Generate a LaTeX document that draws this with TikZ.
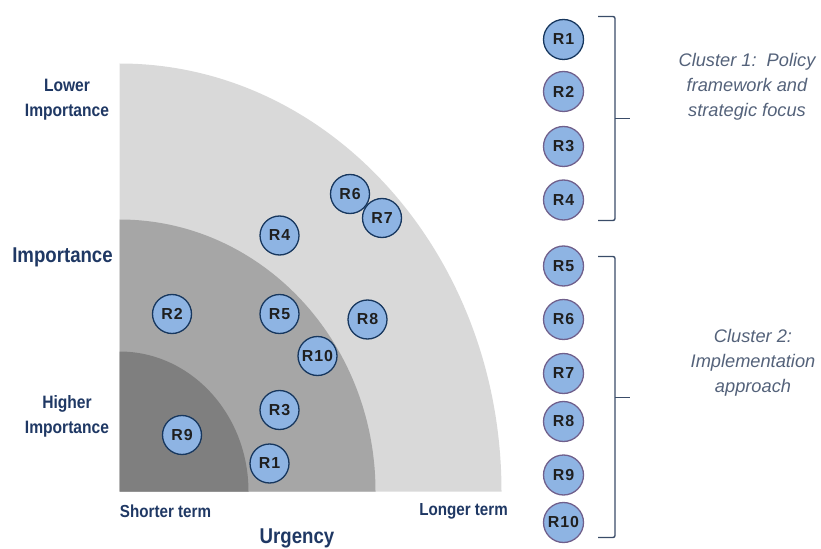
\documentclass[tikz,border=0pt]{standalone}
\usepackage{fontspec}
\setmainfont{Liberation Sans}
\newfontfamily\narrowfont[FakeStretch=0.87]{Liberation Sans}
\newfontfamily\rlabelfont[LetterSpace=6]{Liberation Sans}
\definecolor{navy}{RGB}{31,56,100}
\definecolor{clustertxt}{RGB}{84,98,122}
\definecolor{ringA}{RGB}{217,217,217}
\definecolor{ringB}{RGB}{166,166,166}
\definecolor{ringC}{RGB}{127,127,127}
\definecolor{rfill}{RGB}{142,180,227}
\definecolor{rborder}{RGB}{23,55,94}
\definecolor{rborderB}{RGB}{112,96,140}
\definecolor{brk}{RGB}{58,76,104}
\tikzset{
  rnode/.style={circle, fill=rfill, draw=rborder, line width=1.3bp, minimum size=39bp, inner sep=0pt,
    font=\rlabelfont\fontsize{16}{16}\selectfont\bfseries, text=black!88},
  cnode/.style={rnode, minimum size=40bp, draw=rborderB},
  axislbl/.style={font=\narrowfont\fontsize{18}{25}\selectfont\bfseries, text=navy, align=center, inner sep=0pt},
  axisbig/.style={font=\narrowfont\fontsize{21.5}{25}\selectfont\bfseries, text=navy, align=center, inner sep=0pt},
  termlbl/.style={font=\narrowfont\fontsize{17.5}{20}\selectfont\bfseries, text=navy, inner sep=0pt},
  clusterlbl/.style={font=\fontsize{18.3}{25}\selectfont\itshape, text=clustertxt, align=center, inner sep=0pt},
  bracket/.style={draw=brk, line width=1.4bp, rounded corners=2bp}
}
\begin{document}
\begin{tikzpicture}[x=1bp,y=-1bp]
\useasboundingbox (0,0) rectangle (821,549);
% quarter rings
\fill[ringA] (119.5,491.5) -- ++(382,0) arc[start angle=0, end angle=-90, x radius=382, y radius=428] -- cycle;
\fill[ringB] (119.5,491.5) -- ++(256,0) arc[start angle=0, end angle=-90, x radius=256, y radius=272] -- cycle;
\fill[ringC] (119.5,491.5) -- ++(129,0) arc[start angle=0, end angle=-90, x radius=129, y radius=140] -- cycle;
% axis labels
\node[axislbl] (lower) at (67,100) {Lower\\Importance};
\node[axisbig] (imp) at (62.5,257) {Importance};
\node[axislbl] (higher) at (67,416) {Higher\\Importance};
\node[termlbl] (short) at (165.5,511) {Shorter term};
\node[termlbl] (long) at (463.5,511) {Longer term};
\node[axisbig] (urg) at (297,538) {Urgency};
% plotted items
\node[rnode] (p6) at (350,194) {R6};
\node[rnode] (p7) at (382,218) {R7};
\node[rnode] (p4) at (279.5,235.5) {R4};
\node[rnode] (p2) at (172,314) {R2};
\node[rnode] (p5) at (279.5,314) {R5};
\node[rnode] (p8) at (367.5,319.5) {R8};
\node[rnode] (p10) at (317.5,356) {R10};
\node[rnode] (p3) at (279.5,410) {R3};
\node[rnode] (p9) at (182,435) {R9};
\node[rnode] (p1) at (269.5,463.5) {R1};
% column
\node[cnode, draw=rborder] (c1) at (563.5,39.5) {R1};
\node[cnode] (c2) at (563.5,91.5) {R2};
\node[cnode] (c3) at (563.5,146.5) {R3};
\node[cnode] (c4) at (563.5,200) {R4};
\node[cnode] (c5) at (563.5,266) {R5};
\node[cnode] (c6) at (563.5,319.5) {R6};
\node[cnode] (c7) at (563.5,373.5) {R7};
\node[cnode] (c8) at (563.5,421.5) {R8};
\node[cnode] (c9) at (563.5,475) {R9};
\node[cnode] (c10) at (563.5,522.5) {R10};
% brackets
\coordinate (b1t) at (598,16.5);
\coordinate (b1b) at (598,220.5);
\coordinate (b1m) at (630,118.5);
\draw[bracket] (b1t) -| (615,220.5) -- (b1b);
\draw[draw=brk, line width=1.4bp] (615,118.5) -- (b1m);
\coordinate (b2t) at (598,256.5);
\coordinate (b2b) at (598,537.5);
\coordinate (b2m) at (630,397.5);
\draw[bracket] (b2t) -| (615,537.5) -- (b2b);
\draw[draw=brk, line width=1.4bp] (615,397.5) -- (b2m);
% cluster labels
\node[clusterlbl] (cl1) at (747,87) {Cluster 1:~~Policy\\framework and\\strategic focus};
\node[clusterlbl] (cl2) at (753,363) {Cluster 2:\\Implementation\\approach};
\end{tikzpicture}
\end{document}
